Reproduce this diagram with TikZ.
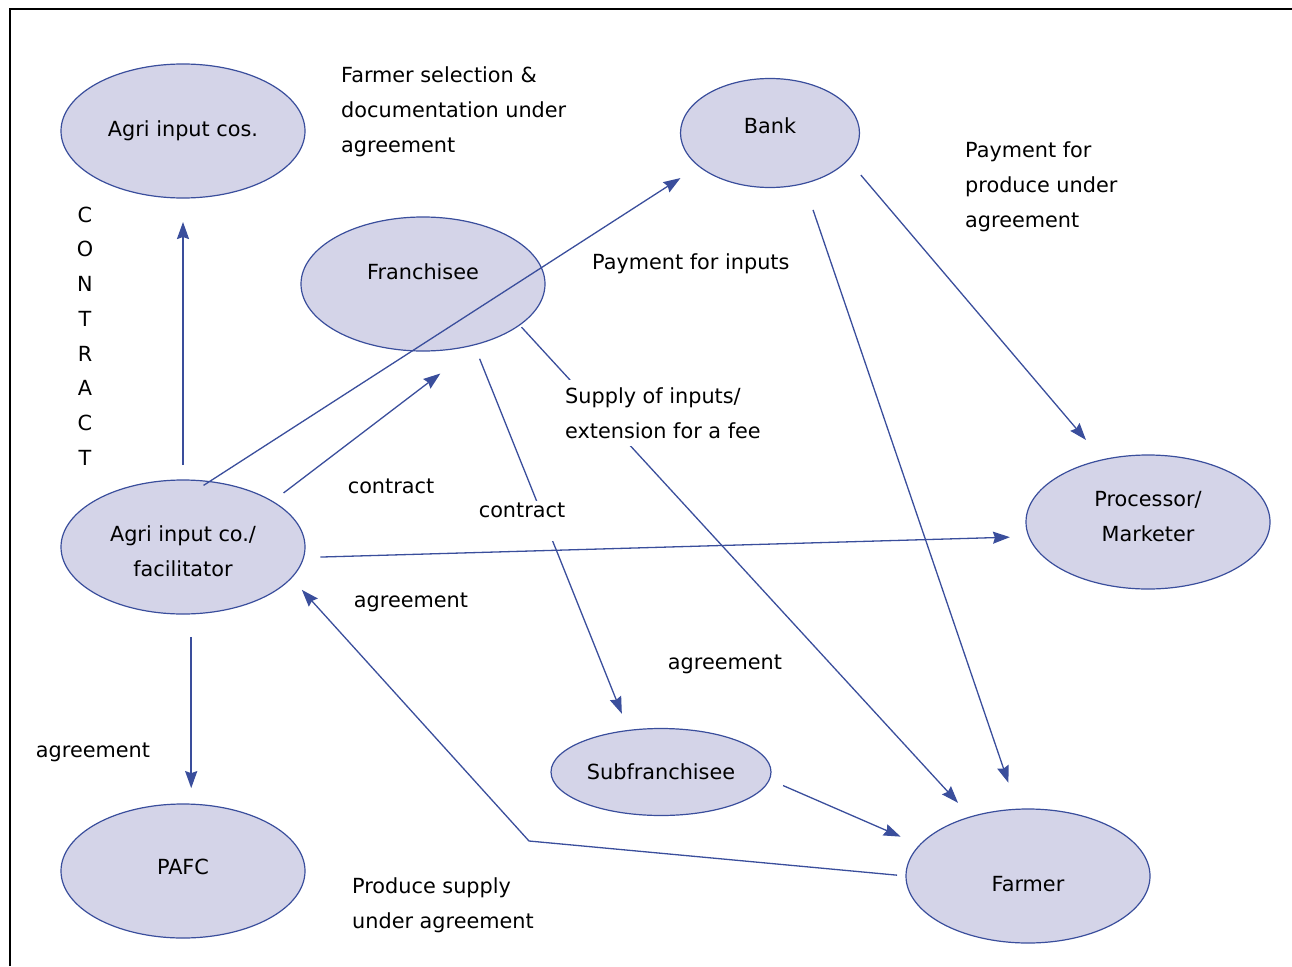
\documentclass[tikz,border=0pt]{standalone}
\usepackage{fontspec}
\setmainfont{DejaVu Sans}
\usetikzlibrary{shapes.geometric,arrows.meta}
\definecolor{linkblue}{RGB}{58,78,156}
\definecolor{blobfill}{RGB}{212,212,232}
\begin{document}
\begin{tikzpicture}[x=1pt,y=-1pt,
  every node/.style={font=\fontsize{20.8pt}{35pt}\selectfont, inner sep=0pt},
  party/.style={ellipse, draw=linkblue, fill=blobfill, line width=1.2pt,
    minimum width=244pt, minimum height=134pt, outer sep=0pt, align=center},
  link/.style={draw=linkblue, line width=1.3pt,
    -{Stealth[length=17pt,width=12pt,inset=2pt]}},
  note/.style={align=left, anchor=west},
  mask/.style={fill=white}
]
\useasboundingbox (0,0) rectangle (1292,966);

% frame
\draw[line width=1.2pt] (10,966) -- (10,9) -- (1292,9);

% parties
\node[party] (cos) at (183,131) {Agri input cos.};
\node[party, minimum width=179pt, minimum height=109pt, text depth=14pt] (bank) at (770,133) {Bank};
\node[party, text depth=24pt] (fr) at (423,284) {Franchisee};
\node[party] (fac) at (183,547) {\rule{0pt}{23.8pt}Agri input co./\\facilitator};
\node[party] (proc) at (1148,522) {Processor/\\Marketer\rule[-12pt]{0pt}{0pt}};
\node[party, text depth=8pt] (pafc) at (183,871) {PAFC};
\node[party, minimum width=220pt, minimum height=87pt] (sub) at (661,772) {Subfranchisee};
\node[party, text height=30pt, text depth=0pt] (farmer) at (1028,876) {Farmer};

% relations
\draw[link, line width=2pt, shorten <=15pt, shorten >=24pt] (fac.90) -- (cos.270);
\draw[link, shorten <=-7pt, shorten >=22pt] (fac.68) -- (bank.205);
\draw[link, shorten <=14pt, shorten >=50pt] (fac.27) -- (fr.314);
\draw[link, shorten <=17pt, shorten >=19pt] (fac.355) -- (proc.187);
\draw[link, line width=2pt, shorten <=23pt, shorten >=16pt] (fac.277) -- (pafc.83);
\coordinate (bend) at (529,841);
\draw[link, shorten <=9pt, shorten >=16pt] (farmer.180) -- (bend) -- (fac.344);
\draw[link, shorten <=15pt, shorten >=18pt] (fr.310) -- (sub.128);
\draw[link, shorten <=3pt, shorten >=19pt] (fr.337) -- (farmer.134);
\draw[link, shorten <=28pt, shorten >=28pt] (bank.304) -- (farmer.99);
\draw[link, shorten <=20pt, shorten >=26pt] (bank.341) -- (proc.126);
\draw[link, shorten <=15pt, shorten >=21pt] (sub.356) -- (farmer.164);

% labels
\node[note] (selnote) at (341,112) {Farmer selection \&\\documentation under\\agreement};
\node[note] (paynote) at (965,187) {Payment for\\produce under\\agreement};
\node[note] (inpnote) at (592,264) {Payment for inputs};
\node[note, mask, inner xsep=3pt, inner ysep=7pt] (supnote) at (562,413) {Supply of inputs/\\extension for a fee};
\node (ctr1) at (391,486) {contract};
\node[mask, anchor=base, inner sep=2pt, text height=14pt, text depth=22pt] (ctr2) at (522,517) {contract};
\node (agr1) at (411,602) {agreement};
\node (agr2) at (725,664) {agreement};
\node (agr3) at (93,752) {agreement};
\node[note] (prodnote) at (352,905) {Produce supply\\under agreement};
\node[font=\fontsize{20.8pt}{34.7pt}\selectfont, align=center] (vert) at (85,336) {C\\O\\N\\T\\R\\A\\C\\T};
\end{tikzpicture}
\end{document}
